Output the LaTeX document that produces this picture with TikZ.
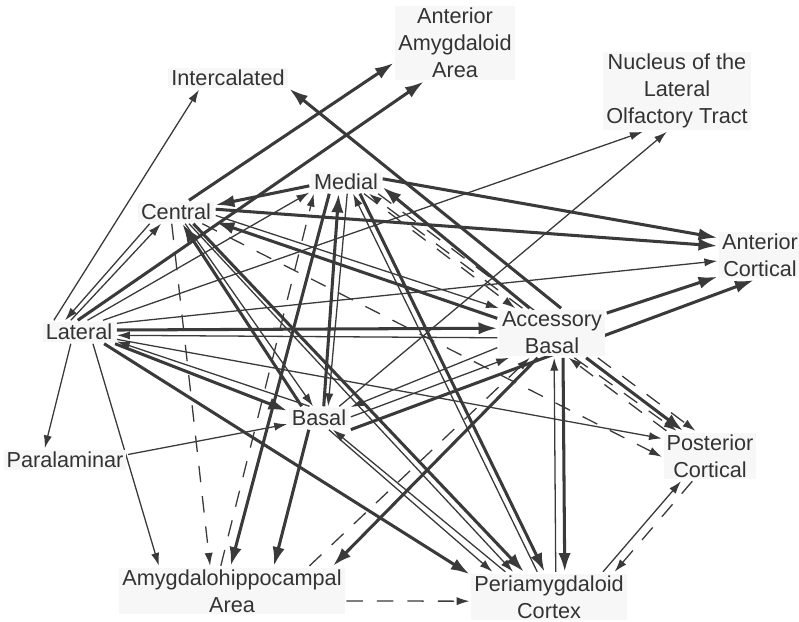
\documentclass[tikz,border=0pt]{standalone}
\usepackage{fontspec}
\setmainfont{Liberation Sans}
\usepackage{tikz}
\usetikzlibrary{backgrounds}
\usetikzlibrary{arrows.meta}

\definecolor{fibergray}{HTML}{3A3A3A}
\definecolor{nucleusbg}{HTML}{F7F7F7}
\definecolor{nucleustext}{HTML}{333333}

\tikzset{
  nucleus/.style= {
    fill = nucleusbg,
    text = nucleustext,
    font = \fontsize{18.5}{23}\selectfont,
    align = center,
    inner xsep = 0.09cm,
    inner ysep = 0.06cm,
    outer sep = 1.5pt
  },
  fiber/.style= {
    draw = fibergray,
    line width = 1.1pt,
    -{Latex[length=11pt,width=7pt]}
  },
  strongfiber/.style= {
    draw = fibergray,
    line width = 2.6pt,
    -{Latex[length=16pt,width=10.5pt]}
  },
  weakfiber/.style= {
    fiber,
    dash pattern = on 14pt off 12pt
  }
}

\begin{document}
\begin{tikzpicture}[x=0.03cm,y=-0.03cm]

  \useasboundingbox (0,0) rectangle (799,622);

  % nuclei
  \node[nucleus] (icl) at (228,78) {Intercalated};
  \node[nucleus] (aaa) at (455,43) {Anterior\\Amygdaloid\\Area};
  \node[nucleus] (nlot) at (677,91) {Nucleus of the\\Lateral\\Olfactory Tract};
  \node[nucleus] (med) at (346,182) {Medial};
  \node[nucleus] (cen) at (176,212) {Central};
  \node[nucleus] (acort) at (760,255) {Anterior\\Cortical};
  \node[nucleus] (lat) at (79,332) {Lateral};
  \node[nucleus] (accb) at (552,333) {Accessory\\Basal};
  \node[nucleus] (bas) at (319,418) {Basal};
  \node[nucleus] (para) at (65,460) {Paralaminar};
  \node[nucleus] (pcort) at (710,456) {Posterior\\Cortical};
  \node[nucleus] (ahaa) at (232,591) {Amygdalohippocampal\\Area};
  \node[nucleus] (peri) at (549,597) {Periamygdaloid\\Cortex};

  \begin{scope}[on background layer]
    \fill[white] (0,0) rectangle (799,622);

    % from lateral
    \draw[fiber] (lat.155) -- (icl.202);
    \draw[fiber] (lat.125) -- (cen.218);
    \draw[fiber] (cen.204) -- (lat.140);
    \draw[strongfiber] (lat.96) -- (aaa.231);
    \draw[fiber] (lat.54) -- (med.196);
    \draw[fiber] (lat.26) -- (nlot.230);
    \draw[fiber] (lat.13) -- (acort.188);
    \draw[strongfiber] (lat.3) -- (accb.175);
    \draw[fiber] (accb.185) -- (lat.-5);
    \draw[fiber] (lat.-11) -- (pcort.160);
    \draw[fiber] (bas.129) -- (lat.-14);
    \draw[strongfiber] (lat.-18) -- (bas.167);
    \draw[strongfiber] (lat.-25) -- (peri.164);
    \draw[fiber] (lat.-40) -- (ahaa.161);
    \draw[fiber] (lat.235) -- (para.150);

    % central
    \draw[strongfiber] (cen.42) -- (aaa.198);
    \draw[strongfiber] (med.186) -- (cen.10);
    \draw[strongfiber] (cen.4) -- (acort.168);
    \draw[fiber] (cen.-5) -- (accb.155);
    \draw[strongfiber] (accb.165) -- (cen.-14);
    \draw[weakfiber] (cen.-24) -- (pcort.181);
    \draw[strongfiber] (cen.-34) -- (peri.135);
    \draw[fiber] (cen.-42) -- (peri.145);
    \draw[fiber] (cen.-52) -- (bas.117);
    \draw[strongfiber] (bas.146) -- (cen.-62);
    \draw[weakfiber] (cen.250) -- (ahaa.131);

    % medial
    \draw[strongfiber] (med.5) -- (acort.158);
    \draw[strongfiber] (accb.132) -- (med.-8);
    \draw[weakfiber] (accb.140) -- (med.-27);
    \draw[weakfiber] (med.-33) -- (accb.146);
    \draw[weakfiber] (med.-20) -- (pcort.120);
    \draw[strongfiber] (med.-40) -- (peri.100);
    \draw[fiber] (peri.115) -- (med.301);
    \draw[fiber] (med.276) -- (bas.52);
    \draw[strongfiber] (bas.68) -- (med.238);
    \draw[strongfiber] (med.215) -- (ahaa.93);
    \draw[weakfiber] (ahaa.114) -- (med.200);

    % accessory basal
    \draw[strongfiber] (accb.70) -- (icl.-10);
    \draw[strongfiber] (accb.20) -- (acort.207);
    \draw[fiber] (accb.195) -- (bas.19);
    \draw[fiber] (bas.2) -- (accb.210);
    \draw[weakfiber] (ahaa.18) -- (accb.228);
    \draw[strongfiber] (accb.240) -- (ahaa.14);
    \draw[fiber] (peri.75) -- (accb.-85);
    \draw[strongfiber] (accb.-66) -- (peri.58);
    \draw[weakfiber] (pcort.150) -- (accb.-56);
    \draw[weakfiber] (accb.-48) -- (pcort.143);
    \draw[strongfiber] (accb.-36) -- (pcort.137);

    % basal
    \draw[strongfiber] (bas.-20) -- (acort.256);
    \draw[fiber] (bas.30) -- (nlot.256);
    \draw[fiber] (para.5) -- (bas.191);
    \draw[strongfiber] (bas.229) -- (ahaa.31);
    \draw[fiber] (bas.-50) -- (peri.156);
    \draw[fiber] (peri.150) -- (bas.-40);

    % cortex
    \draw[fiber] (peri.25) -- (pcort.221);
    \draw[weakfiber] (pcort.235) -- (peri.21);
    \draw[weakfiber] (ahaa.-5) -- (peri.183);
  \end{scope}

\end{tikzpicture}
\end{document}
